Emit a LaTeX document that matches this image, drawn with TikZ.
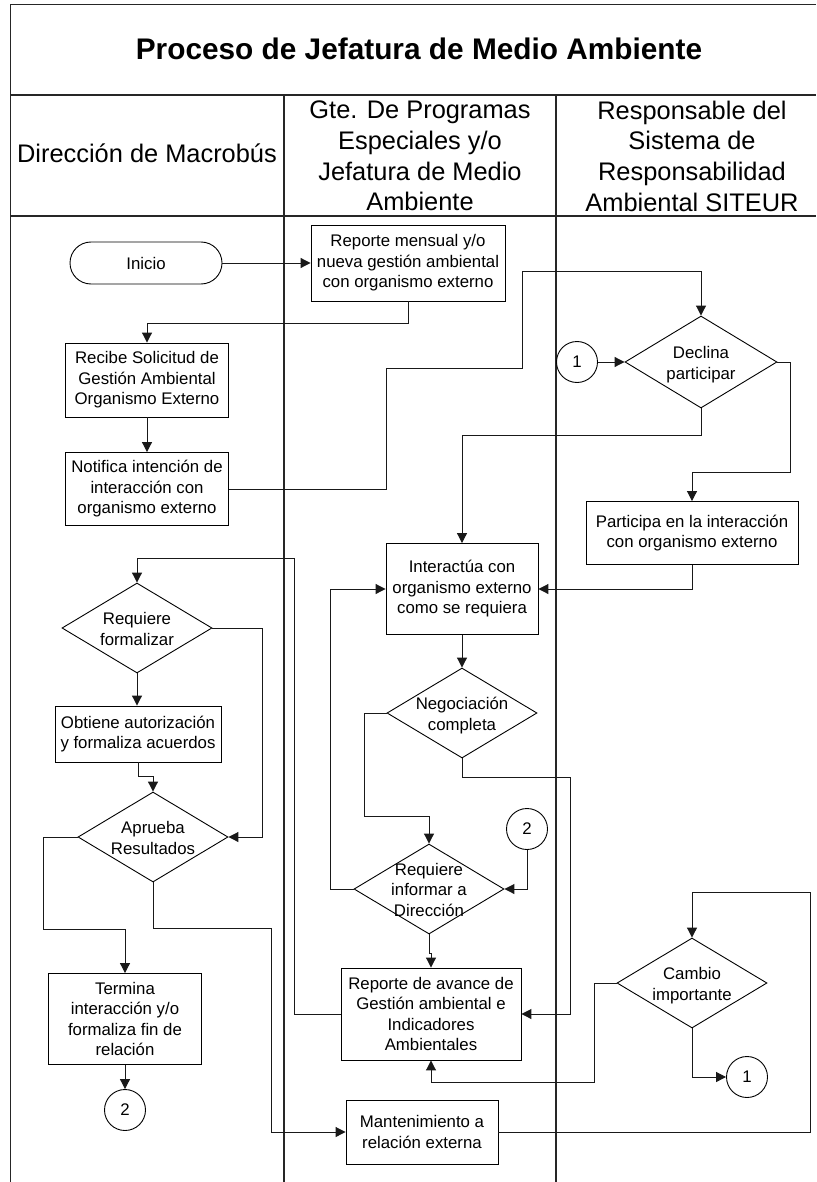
\documentclass[tikz,border=0pt]{standalone}
\usepackage{fontspec}
\setmainfont{Liberation Sans}
\usetikzlibrary{shapes.geometric,arrows.meta}
\newcommand{\dtxt}[1]{\smash{\raisebox{-0.42em}{\makebox[0pt]{\begin{tabular}{@{}c@{}}#1\end{tabular}}}}}

\begin{document}
\begin{tikzpicture}[x=1pt, y=-1pt, >={Triangle[length=10pt,width=10pt]},
	marco/.style={line width=1.2pt, draw=black!85},
	flujo/.style={line width=1pt, draw=black!90, ->},
	box/.style 2 args={draw, line width=0.9pt, minimum width=#1, minimum height=#2, inner sep=0, align=center, font=\fontsize{16.8}{20.5}\selectfont},
	dec/.style={draw, diamond, line width=0.9pt, minimum width=150, minimum height=90, inner sep=0, font=\fontsize{16.8}{20.5}\selectfont},
	ref/.style={draw, circle, line width=0.9pt, minimum size=41, inner sep=0, font=\fontsize{16.8}{20.5}\selectfont},
	carril/.style={align=center, font=\fontsize{25.4}{30.7}\selectfont}]
			\useasboundingbox (0,0) rectangle (816,1182);
			\draw[marco] (816,4.3) -- (10.5,4.3) -- (10.5,1182);
			\draw[marco] (10.5,95) -- (816,95) (10.5,216) -- (816,216);
			\draw[marco] (284,95) -- (284,1182) (556,95) -- (556,1182);
			\node[font=\bfseries\fontsize{29.8}{35}\selectfont, anchor=base] (titulo) at (419,60) {Proceso de Jefatura de Medio Ambiente};
			\node[carril, anchor=base] (dir) at (147,163) {Dirección de Macrobús};
			\node[carril] (gte) at (420,156) {Gte. De Programas\\Especiales y/o\\Jefatura de Medio\\Ambiente};
			\node[carril] (resp) at (692,156) {Responsable del\\Sistema de\\Responsabilidad\\Ambiental SITEUR};
			\node[box={152}{42}, rounded corners=21] (inicio) at (146,263) {Inicio};
			\node[box={194}{76}] (rep) at (408,263) {Reporte mensual y/o\\nueva gestión ambiental\\con organismo externo};
			\node[box={163}{74}] (recibe) at (147,380) {Recibe Solicitud de\\Gestión Ambiental\\Organismo Externo};
			\node[box={163}{73}] (notif) at (147,489) {Notifica intención de\\interacción con\\organismo externo};
			\node[ref] (uno) at (577,362) {1};
			\node[dec, minimum width=152, minimum height=92] (declina) at (701,362) {\dtxt{Declina\\participar}};
			\node[box={212}{63}] (particip) at (692,533) {Participa en la interacción\\con organismo externo};
			\node[box={152}{91}] (interact) at (462,589) {Interactúa con\\organismo externo\\como se requiera};
			\node[dec] (reqform) at (137,628) {\dtxt{Requiere\\formalizar}};
			\node[box={166}{56}] (obtiene) at (138,734) {Obtiene autorización\\y formaliza acuerdos};
			\node[dec] (negoc) at (462,713) {\dtxt{Negociación\\completa}};
			\node[dec] (aprueba) at (153,837) {\dtxt{Aprueba\\Resultados}};
			\node[ref] (dos) at (527,829) {2};
			\node[dec] (reqinf) at (429,889) {\dtxt{Requiere\\informar a\\Dirección}};
			\node[box={153}{91}] (termina) at (125,1019) {Termina\\interacción y/o\\formaliza fin de\\relación};
			\node[box={180}{92}] (reporte) at (431,1014) {Reporte de avance de\\Gestión ambiental e\\Indicadores\\Ambientales};
			\node[dec] (cambio) at (692,983) {\dtxt{Cambio\\importante}};
			\node[ref] (unob) at (747,1077) {1};
			\node[ref] (dosb) at (125,1110) {2};
			\node[box={152}{64}] (manten) at (422,1132) {Mantenimiento a\\relación externa};
			\draw[flujo] (inicio.east) -- (rep.west);
			\draw[flujo] (rep.south) -- (408,323) -| (recibe.north);
			\draw[flujo] (recibe.south) -- (notif.north);
			\draw[flujo] (notif.east) -- (386,489) -- (386,368) -- (522,368) -- (522,271) -| (declina.north);
			\draw[flujo] (uno.east) -- (declina.west);
			\draw[flujo] (declina.south) -- (701,435) -| (interact.north);
			\draw[flujo] (declina.east) -- (790,362) -- (790,472) -| (particip.north);
			\draw[flujo] (particip.south) |- (interact.east);
			\draw[flujo] (interact.south) -- (negoc.north);
			\draw[flujo] (negoc.west) -- (364,713) -- (364,816) -| (reqinf.north);
			\draw[flujo] (negoc.south) -- (462,777) -- (570,777) |- (reporte.east);
			\draw[flujo] (dos.south) |- (reqinf.east);
			\draw[flujo] (reqinf.west) -- (330,889) |- (interact.west);
			\draw[flujo] (reqinf.south) -- (429,953) -| (reporte.north);
			\draw[flujo] (reporte.west) -- (294,1014) -- (294,558) -| (reqform.north);
			\draw[flujo] (reqform.south) -- (reqform.south |- obtiene.north);
			\draw[flujo] (reqform.east) -- (262,628) |- (aprueba.east);
			\draw[flujo] (obtiene.south) -- (138,776) -| (aprueba.north);
			\draw[flujo] (aprueba.west) -- (43,837) -- (43,929) -| (termina.north);
			\draw[flujo] (aprueba.south) -- (153,928) -- (271,928) |- (manten.west);
			\draw[flujo] (termina.south) -- (dosb.north);
			\draw[flujo] (cambio.west) -- (594,983) -- (594,1082) -| (reporte.south);
			\draw[flujo] (cambio.south) |- (unob.west);
			\draw[flujo] (manten.east) -- (810,1132) -- (810,892) -| (cambio.north);
\end{tikzpicture}
\end{document}
